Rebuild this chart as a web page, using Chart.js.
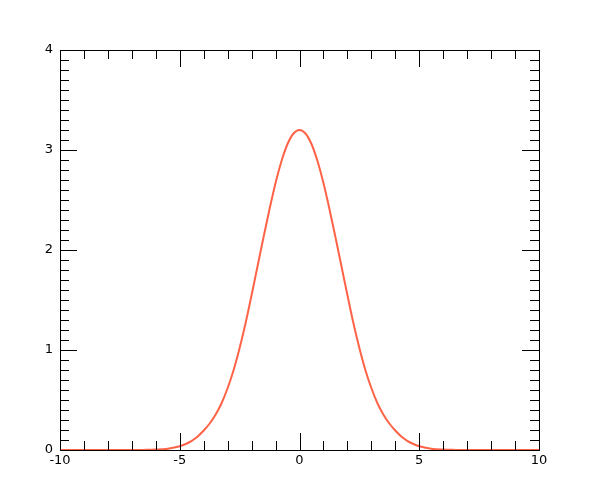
<!DOCTYPE html>
<html>
<head>
<meta charset="utf-8">
<script src="https://cdn.jsdelivr.net/npm/chart.js@4"></script>
<style>
  html, body { margin: 0; padding: 0; background: #fff; }
  #wrap { width: 600px; height: 500px; }
</style>
</head>
<body>
<div id="wrap"><canvas id="chart"></canvas></div>
<script>
// values: zero tails, then every quarter unit from -5 to 5
var xValues = [-10, -9, -8, -7, -6.5, -6, -5.5, -5, -4.75, -4.5, -4.25, -4, -3.75, -3.5, -3.25, -3, -2.75, -2.5, -2.25,
  -2, -1.75, -1.5, -1.25, -1, -0.75, -0.5, -0.25, 0, 0.25, 0.5, 0.75, 1, 1.25, 1.5, 1.75, 2, 2.25, 2.5, 2.75,
  3, 3.25, 3.5, 3.75, 4, 4.25, 4.5, 4.75, 5, 5.5, 6, 6.5, 7, 8, 9, 10];
var yValues = [0, 0, 0, 0, 0.001, 0.004, 0.013, 0.037, 0.06, 0.092, 0.135, 0.195, 0.265, 0.355, 0.47, 0.62, 0.8, 1.02, 1.27,
  1.55, 1.84, 2.13, 2.41, 2.67, 2.89, 3.06, 3.165, 3.2, 3.165, 3.06, 2.89, 2.67, 2.41, 2.13, 1.84, 1.55, 1.27, 1.02, 0.8,
  0.62, 0.47, 0.355, 0.265, 0.195, 0.135, 0.092, 0.06, 0.037, 0.013, 0.004, 0.001, 0, 0, 0, 0];
var xTicks = [-10, -5, 0, 5, 10];
var yTicks = [0, 1, 2, 3, 4];

var points = xValues.map(function(x, i) { return {x: x, y: yValues[i]}; });

// ticks pointing inward on all four sides, major + minor
var frameTicks = {
  id: 'frameTicks',
  afterDraw: function(chart) {
    var ctx = chart.ctx;
    var a = chart.chartArea;
    var xs = chart.scales.x, ys = chart.scales.y;
    ctx.save();
    ctx.strokeStyle = '#000';
    ctx.lineWidth = 1;
    ctx.strokeRect(a.left + 0.5, a.top + 0.5, a.right - a.left, a.bottom - a.top);
    ctx.beginPath();
    for (var v = -10; v <= 10; v++) {
      var px = Math.round(xs.getPixelForValue(v)) + 0.5;
      var len = (v % 5 === 0) ? 17 : 9;
      ctx.moveTo(px, a.bottom); ctx.lineTo(px, a.bottom - len);
      ctx.moveTo(px, a.top); ctx.lineTo(px, a.top + len);
    }
    for (var k = 0; k <= 40; k++) {
      var py = Math.round(ys.getPixelForValue(k / 10)) + 0.5;
      var l2 = (k % 10 === 0) ? 17 : 9;
      ctx.moveTo(a.left, py); ctx.lineTo(a.left + l2, py);
      ctx.moveTo(a.right, py); ctx.lineTo(a.right - l2, py);
    }
    ctx.stroke();
    ctx.restore();
  }
};

new Chart(document.getElementById('chart'), {
  type: 'line',
  data: {
    datasets: [{
      data: points,
      borderColor: '#ff6347',
      borderWidth: 2,
      pointRadius: 0,
      fill: false,
      cubicInterpolationMode: 'monotone'
    }]
  },
  options: {
    responsive: true,
    maintainAspectRatio: false,
    animation: false,
    layout: { padding: { left: 0, top: 50, right: 61, bottom: 0 } },
    plugins: { legend: { display: false }, tooltip: { enabled: false } },
    scales: {
      x: {
        type: 'linear',
        min: -10, max: 10,
        afterFit: function(s) { s.height = 50; },
        afterBuildTicks: function(s) { s.ticks = xTicks.map(function(v) { return {value: v}; }); },
        grid: { display: false, drawTicks: false },
        border: { display: false },
        ticks: {
          color: '#000', padding: 3,
          font: { family: 'DejaVu Sans', size: 13 },
          maxRotation: 0
        }
      },
      y: {
        type: 'linear',
        min: 0, max: 4,
        afterFit: function(s) { s.width = 60; },
        afterBuildTicks: function(s) { s.ticks = yTicks.map(function(v) { return {value: v}; }); },
        grid: { display: false, drawTicks: false },
        border: { display: false },
        ticks: {
          color: '#000', padding: 7,
          font: { family: 'DejaVu Sans', size: 13 }
        }
      }
    }
  },
  plugins: [frameTicks]
});
</script>
</body>
</html>
